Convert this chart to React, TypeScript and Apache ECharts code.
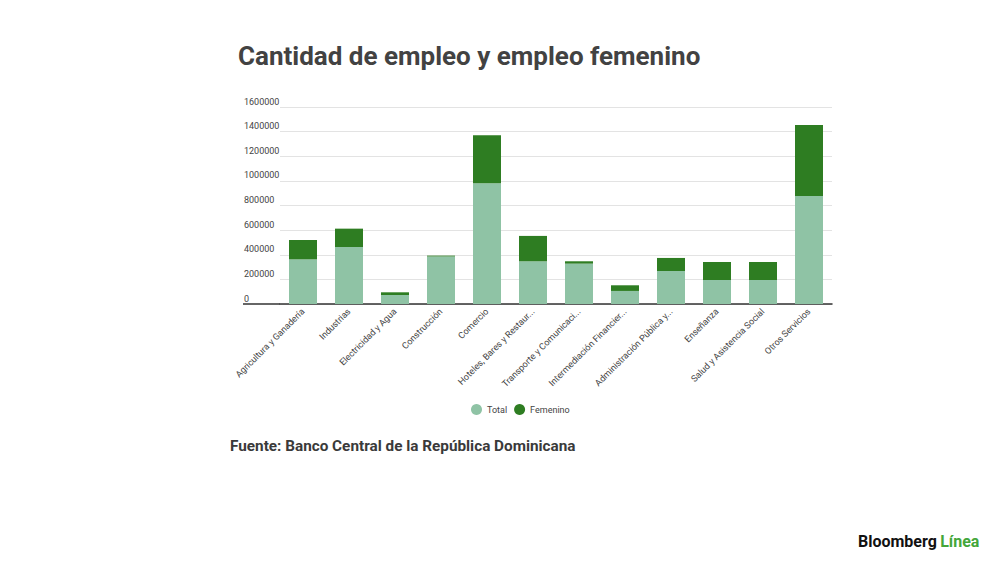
import React, { useEffect, useRef } from "react";
import * as echarts from "echarts";

const categories = [
  "Agricultura y Ganadería",
  "Industrias",
  "Electricidad y Agua",
  "Construcción",
  "Comercio",
  "Hoteles, Bares y Restaur...",
  "Transporte y Comunicaci...",
  "Intermediación Financier...",
  "Administración Pública y...",
  "Enseñanza",
  "Salud y Asistencia Social",
  "Otros Servicios",
];

const totalValues = [363000, 463000, 73000, 386000, 981000, 347000, 328000, 106000, 268000, 195000, 195000, 878000];
const femeninoValues = [157000, 149000, 22000, 7000, 390000, 206000, 19000, 46000, 106000, 146000, 146000, 575000];

const yTicks = { min: 0, max: 1600000, interval: 200000 };

const titleText = "Cantidad de empleo y empleo femenino";
const sourceText = "Fuente: Banco Central de la República Dominicana";

const LIGHT = "#8fc3a5";
const DARK = "#2e7d22";
const FONT = "Roboto, 'Noto Sans', sans-serif";

export default function App() {
  const ref = useRef<HTMLDivElement>(null);
  useEffect(() => {
    if (!ref.current) return;
    const chart = echarts.init(ref.current, undefined, { renderer: "svg" });
    chart.setOption({
      animation: false,
      backgroundColor: "#ffffff",
      textStyle: { fontFamily: FONT },
      grid: { left: 280, right: 168, top: 107, bottom: 258 },
      legend: {
        data: ["Total", "Femenino"],
        left: 466,
        top: 399,
        icon: "circle",
        itemWidth: 11,
        itemHeight: 11,
        itemGap: 7,
        textStyle: { fontSize: 9, color: "#444", fontFamily: FONT },
      },
      xAxis: {
        type: "category",
        data: categories,
        axisLine: { show: true, lineStyle: { color: "#333", width: 1.5 } },
        axisTick: { show: false },
        axisLabel: {
          interval: 0,
          rotate: 45,
          fontSize: 9,
          color: "#444",
          margin: 6,
          fontFamily: FONT,
        },
      },
      yAxis: {
        type: "value",
        min: yTicks.min,
        max: yTicks.max,
        interval: yTicks.interval,
        axisLine: { show: false },
        axisTick: { show: false },
        splitLine: { lineStyle: { color: "#e3e3e3", width: 1 } },
        axisLabel: {
          align: "left",
          margin: 36,
          verticalAlign: "bottom",
          padding: [0, 0, 1, 0],
          fontSize: 9,
          color: "#444",
          fontFamily: FONT,
          formatter: (v: number) => String(v),
        },
      },
      series: [
        {
          name: "Total",
          type: "bar",
          stack: "a",
          data: totalValues,
          barWidth: 28,
          itemStyle: { color: LIGHT },
        },
        {
          name: "Femenino",
          type: "bar",
          stack: "a",
          data: femeninoValues,
          barWidth: 28,
          itemStyle: { color: DARK },
        },
      ],
      graphic: [
        {
          type: "text",
          left: 238,
          top: 43,
          style: {
            text: titleText,
            fontSize: 26,
            fontWeight: "bold",
            fill: "#424242",
            fontFamily: FONT,
          },
        },
        {
          type: "line",
          shape: { x1: 243, y1: 304, x2: 280, y2: 304 },
          style: { stroke: "#333", lineWidth: 1.5 },
        },
        {
          type: "text",
          left: 230,
          top: 438,
          style: {
            text: sourceText,
            fontSize: 15.3,
            fontWeight: "bold",
            fill: "#3a3a3a",
            fontFamily: FONT,
          },
        },
        {
          type: "text",
          left: 858,
          top: 533,
          style: {
            text: "{a|Bloomberg} {b|Línea}",
            rich: {
              a: { fontSize: 16, fontWeight: "bold", fill: "#111", fontFamily: FONT },
              b: { fontSize: 16, fontWeight: "bold", fill: "#43a63a", fontFamily: FONT },
            },
          },
        },
      ],
    });
    return () => chart.dispose();
  }, []);
  return (
    <div
      ref={ref}
      style={{ position: "fixed", left: 0, top: 0, width: 1000, height: 562, background: "#fff" }}
    />
  );
}
